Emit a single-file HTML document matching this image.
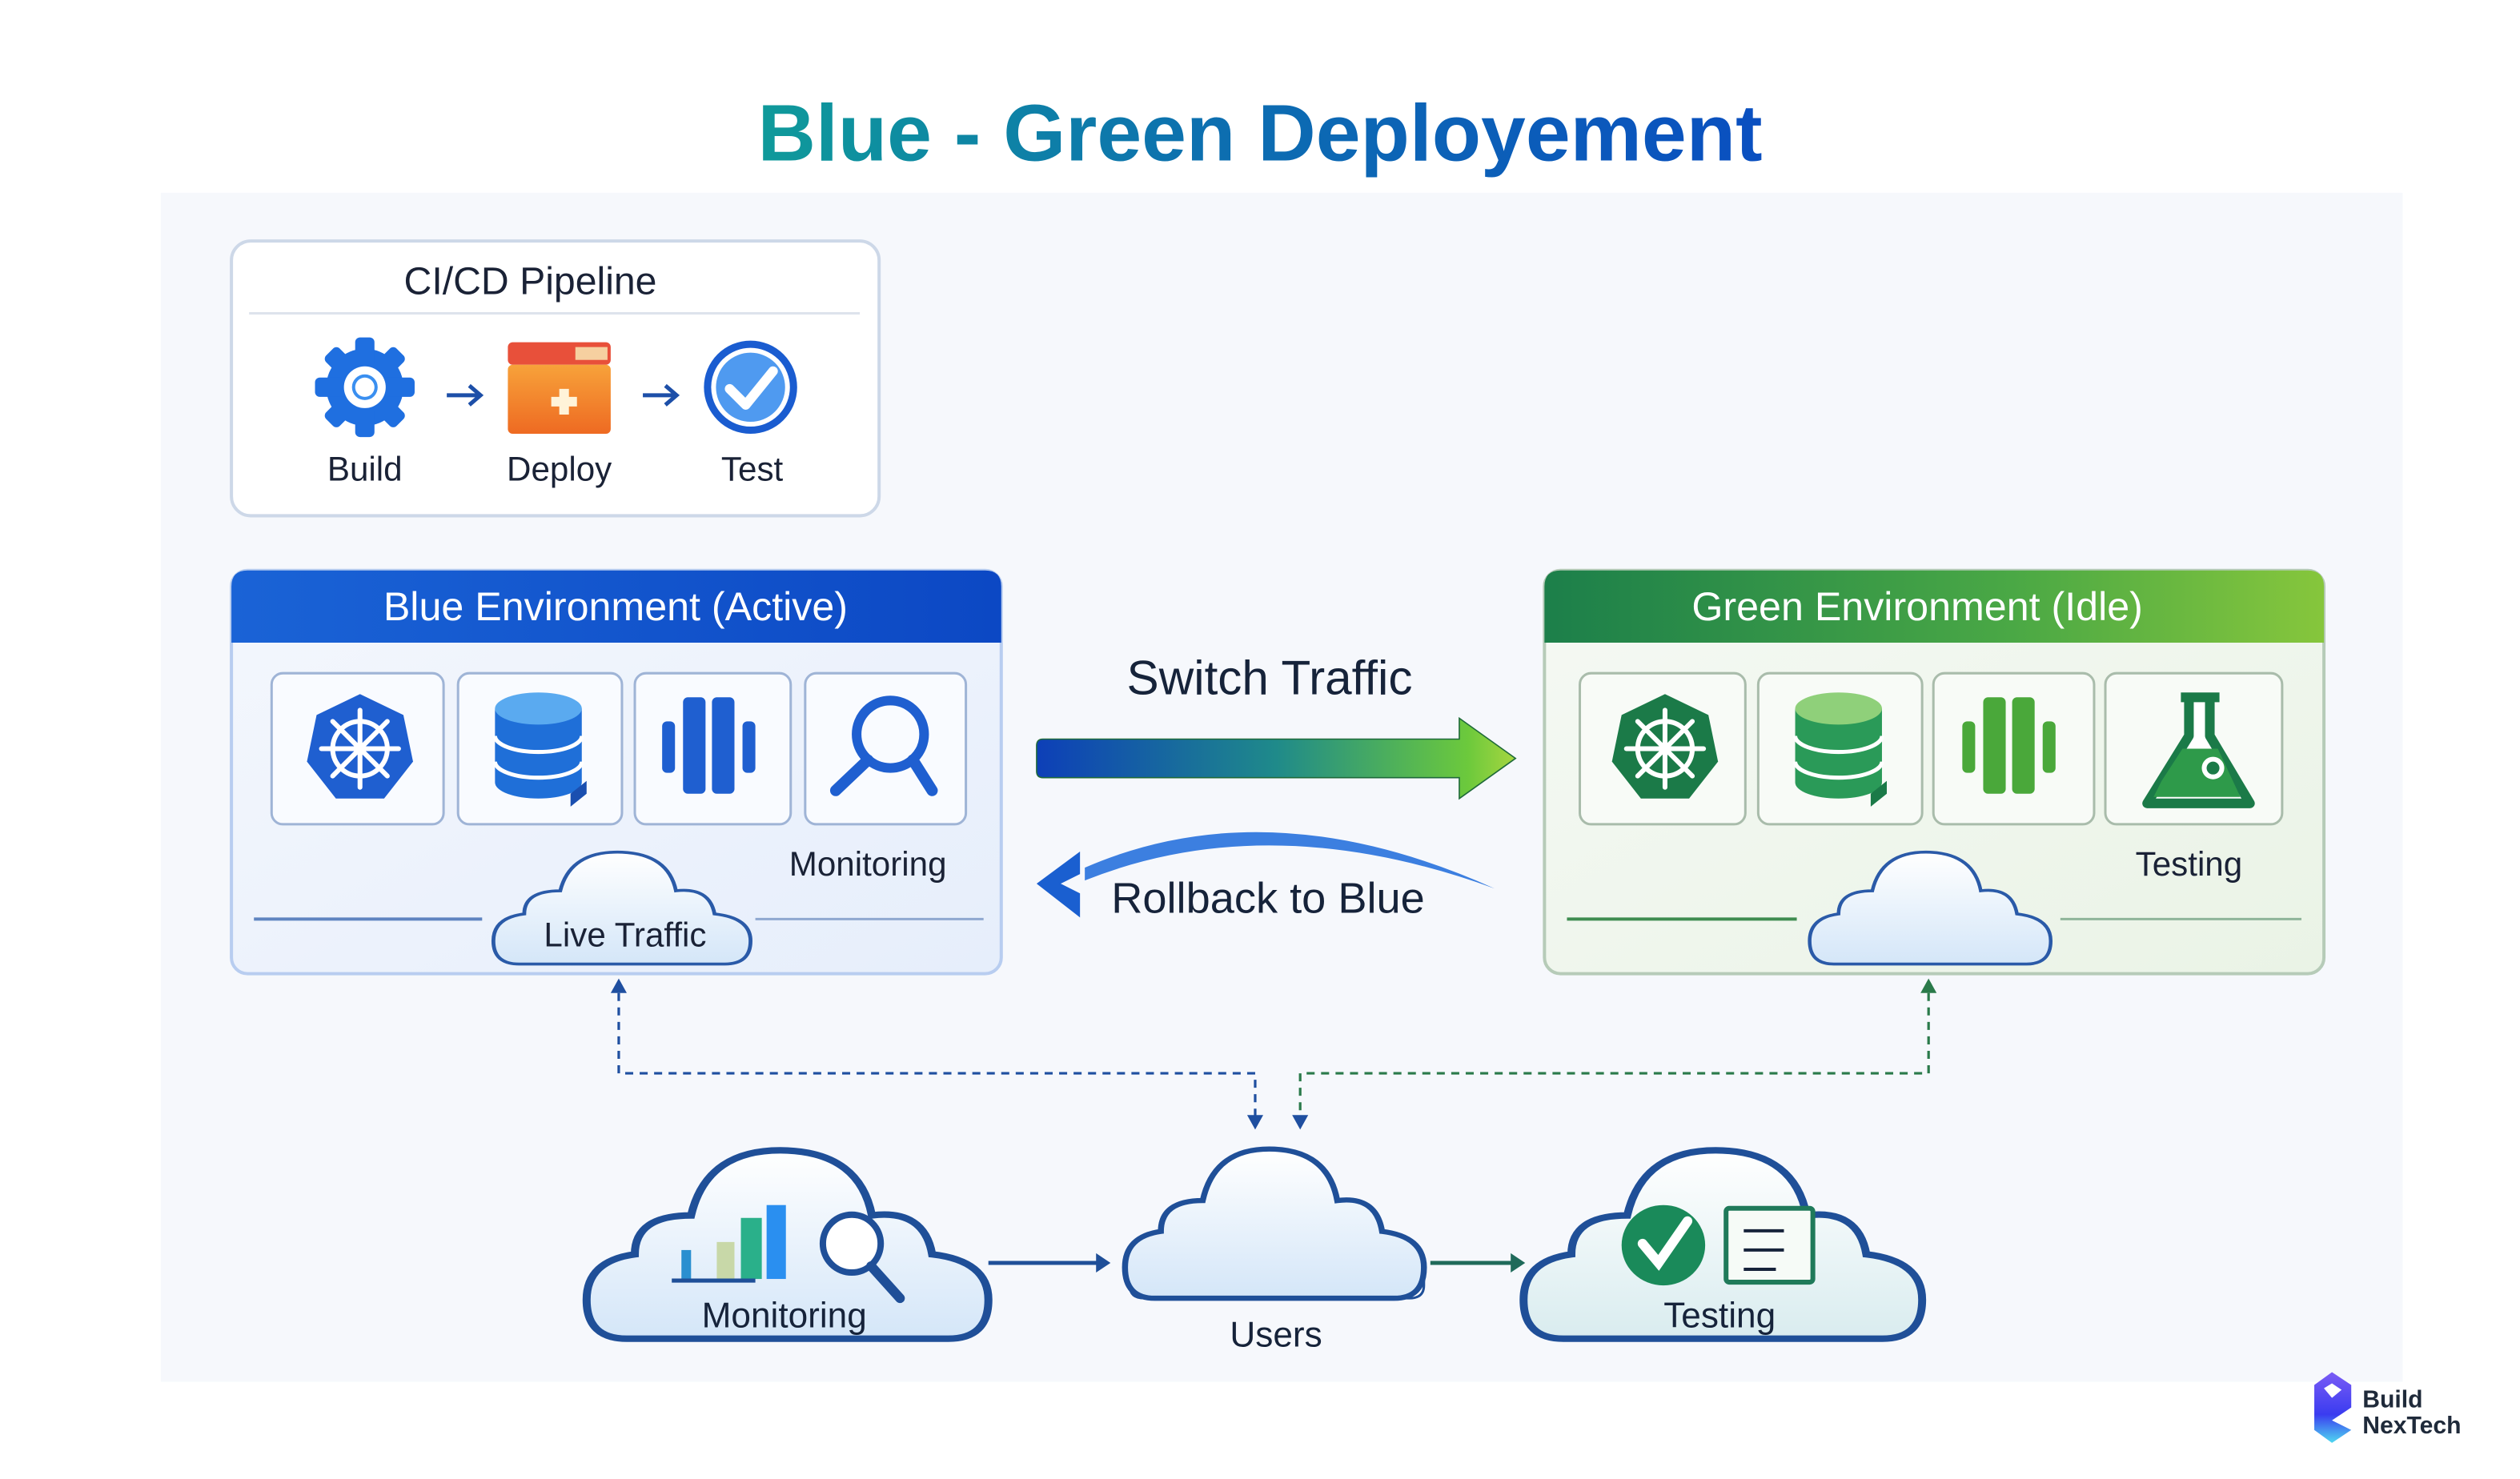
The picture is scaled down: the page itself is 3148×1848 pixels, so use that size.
<!DOCTYPE html>
<html><head><meta charset="utf-8"><style>
html,body{margin:0;padding:0;background:#fff;}
svg{display:block;font-family:"Liberation Sans",sans-serif;}
</style></head><body>
<svg width="3148" height="1848" viewBox="0 0 1568 920.5" preserveAspectRatio="none" xmlns="http://www.w3.org/2000/svg">
<defs>
<linearGradient id="tg" x1="0" x2="1"><stop offset="0" stop-color="#0f9a9a"/><stop offset="0.45" stop-color="#0d6fb0"/><stop offset="1" stop-color="#0a4fc0"/></linearGradient>
<linearGradient id="bh" x1="0" x2="1"><stop offset="0" stop-color="#1a63d6"/><stop offset="1" stop-color="#0c48c4"/></linearGradient>
<linearGradient id="gh" x1="0" x2="1"><stop offset="0" stop-color="#1c7f4a"/><stop offset="0.6" stop-color="#4aa845"/><stop offset="1" stop-color="#86c63c"/></linearGradient>
<linearGradient id="sw" x1="0" x2="1"><stop offset="0" stop-color="#0d3fb8"/><stop offset="0.5" stop-color="#1f8a8a"/><stop offset="0.9" stop-color="#6cc93c"/><stop offset="1" stop-color="#a6d640"/></linearGradient>
<linearGradient id="cl" x1="0" y1="0" x2="0" y2="1"><stop offset="0" stop-color="#ffffff"/><stop offset="1" stop-color="#d4e6f8"/></linearGradient>
<linearGradient id="clg" x1="0" y1="0" x2="0" y2="1"><stop offset="0" stop-color="#ffffff"/><stop offset="1" stop-color="#d9ecef"/></linearGradient>
<linearGradient id="bb" x1="0" y1="0" x2="1" y2="1"><stop offset="0" stop-color="#f4f7fd"/><stop offset="1" stop-color="#e6eefb"/></linearGradient>
<linearGradient id="gb" x1="0" y1="0" x2="1" y2="1"><stop offset="0" stop-color="#f5f9f4"/><stop offset="1" stop-color="#eaf3e6"/></linearGradient>
<linearGradient id="dp" x1="0" y1="0" x2="0" y2="1"><stop offset="0" stop-color="#f7a23a"/><stop offset="1" stop-color="#ee6a22"/></linearGradient>
<linearGradient id="lg" x1="0" y1="0" x2="0" y2="1"><stop offset="0" stop-color="#7a5cf5"/><stop offset="0.6" stop-color="#3a3cf0"/><stop offset="1" stop-color="#4fd8f0"/></linearGradient>
<path id="cloud" d="M10,60 Q0,60 0,48 Q0,36 12,34 Q12,22 26,22 Q30,1 50,2 Q68,3 71,22 Q84,20 86,34 Q100,36 100,48 Q100,60 90,60 Z"/>
</defs>
<rect width="1568" height="921" fill="#fff"/>
<rect x="100" y="120" width="1395" height="740" fill="#f6f8fc"/>
<text x="784" y="100" font-size="50" font-weight="bold" fill="url(#tg)" text-anchor="middle">Blue - Green Deployement</text>

<!-- CI/CD -->
<rect x="144" y="150" width="403" height="171" rx="12" fill="#fff" stroke="#cdd8e8" stroke-width="2"/>
<text x="330" y="183" font-size="24" fill="#1a2236" text-anchor="middle">CI/CD Pipeline</text>
<line x1="155" y1="195" x2="535" y2="195" stroke="#dde3ec" stroke-width="1.5"/>
<g transform="translate(227,241)">
<circle r="24" fill="#1f6fe0"/>
<g fill="#1f6fe0"><rect x="-6" y="-31" width="12" height="62" rx="3"/><rect x="-6" y="-31" width="12" height="62" rx="3" transform="rotate(45)"/><rect x="-6" y="-31" width="12" height="62" rx="3" transform="rotate(90)"/><rect x="-6" y="-31" width="12" height="62" rx="3" transform="rotate(135)"/></g>
<circle r="13" fill="#fff"/><circle r="8" fill="#3a8ff0"/><circle r="6" fill="#fff"/></g>
<path d="M278,246 H298 M292,240 L299,246 L292,252" stroke="#1d4fa8" stroke-width="2.5" fill="none"/>
<rect x="316" y="213" width="64" height="14" rx="3" fill="#e8503a"/>
<rect x="358" y="216" width="20" height="8" fill="#f6d0a0"/>
<rect x="316" y="227" width="64" height="43" rx="3" fill="url(#dp)"/>
<path d="M348,242 h6 v5 h5 v6 h-5 v5 h-6 v-5 h-5 v-6 h5 z" fill="#fff3d8"/>
<path d="M400,246 H420 M414,240 L421,246 L414,252" stroke="#1d4fa8" stroke-width="2.5" fill="none"/>
<circle cx="467" cy="241" r="29" fill="#1a5cd0"/><circle cx="467" cy="241" r="23" fill="#4f9af0" stroke="#fff" stroke-width="3"/>
<path d="M454,242 L464,252 L481,231" stroke="#fff" stroke-width="6" fill="none" stroke-linecap="round" stroke-linejoin="round"/>
<g font-size="21" fill="#1a2236" text-anchor="middle"><text x="227" y="299">Build</text><text x="348" y="299">Deploy</text><text x="468" y="299">Test</text></g>

<!-- Blue env -->
<rect x="144" y="355" width="479" height="251" rx="10" fill="url(#bb)" stroke="#b8cdf0" stroke-width="2"/>
<path d="M154,355 H613 Q623,355 623,365 V400 H144 V365 Q144,355 154,355 Z" fill="url(#bh)"/>
<text x="383" y="386" font-size="25" fill="#fff" text-anchor="middle">Blue Environment (Active)</text>
<g fill="#f9fbff" stroke="#9fb4d6" stroke-width="1.5">
<rect x="169" y="419" width="107" height="94" rx="7"/><rect x="285" y="419" width="102" height="94" rx="7"/><rect x="395" y="419" width="97" height="94" rx="7"/><rect x="501" y="419" width="100" height="94" rx="7"/></g>
<g transform="translate(224,466)">
<polygon points="0,-34 27,-21 33,8 15,31 -15,31 -33,8 -27,-21" fill="#1f5fd0"/>
<circle r="17" fill="none" stroke="#fff" stroke-width="3"/><circle r="4" fill="#fff"/>
<g stroke="#fff" stroke-width="3" stroke-linecap="round"><line y1="-24" y2="24"/><line x1="-24" x2="24"/><line x1="-17" y1="-17" x2="17" y2="17"/><line x1="-17" y1="17" x2="17" y2="-17"/></g></g>
<g transform="translate(335,0)">
<path d="M-27,441 V487 A27,10 0 0 0 27,487 V441 Z" fill="#1f6fd8"/>
<ellipse cx="0" cy="441" rx="27" ry="10" fill="#5aaaf0"/>
<path d="M-27,458 A27,10 0 0 0 27,458 M-27,474 A27,10 0 0 0 27,474" stroke="#fff" stroke-width="2.5" fill="none"/>
<path d="M20,494 L30,486 L30,494 L20,502 Z" fill="#1a4fb0"/></g>
<g fill="#1f5fd0"><rect x="412" y="449" width="8" height="32" rx="3"/><rect x="425" y="434" width="14" height="60" rx="3"/><rect x="443" y="434" width="14" height="60" rx="3"/><rect x="462" y="449" width="8" height="32" rx="3"/></g>
<circle cx="554" cy="457" r="21" fill="none" stroke="#1f5fd0" stroke-width="6"/>
<path d="M540,473 L520,492 M568,473 L580,492" stroke="#1f5fd0" stroke-width="7" stroke-linecap="round"/>
<text x="540" y="545" font-size="21" fill="#1a2236" text-anchor="middle">Monitoring</text>
<line x1="158" y1="572" x2="300" y2="572" stroke="#5f84c0" stroke-width="2"/><line x1="470" y1="572" x2="612" y2="572" stroke="#8fa8d0" stroke-width="1.5"/>
<use href="#cloud" transform="translate(307,528) scale(1.6,1.2)" fill="url(#cl)" stroke="#2a5aa8" stroke-width="1.5" vector-effect="non-scaling-stroke"/>
<text x="389" y="589" font-size="21" fill="#1a2236" text-anchor="middle">Live Traffic</text>

<!-- Green env -->
<rect x="961" y="355" width="485" height="251" rx="10" fill="url(#gb)" stroke="#b6cbb8" stroke-width="2"/>
<path d="M971,355 H1436 Q1446,355 1446,365 V400 H961 V365 Q961,355 971,355 Z" fill="url(#gh)"/>
<text x="1193" y="386" font-size="25" fill="#fff" text-anchor="middle">Green Environment (Idle)</text>
<g fill="#f8fbf7" stroke="#a9bcab" stroke-width="1.5">
<rect x="983" y="419" width="103" height="94" rx="7"/><rect x="1094" y="419" width="102" height="94" rx="7"/><rect x="1203" y="419" width="100" height="94" rx="7"/><rect x="1310" y="419" width="110" height="94" rx="7"/></g>
<g transform="translate(1036,466)">
<polygon points="0,-34 27,-21 33,8 15,31 -15,31 -33,8 -27,-21" fill="#1b7a48"/>
<circle r="17" fill="none" stroke="#fff" stroke-width="3"/><circle r="4" fill="#fff"/>
<g stroke="#fff" stroke-width="3" stroke-linecap="round"><line y1="-24" y2="24"/><line x1="-24" x2="24"/><line x1="-17" y1="-17" x2="17" y2="17"/><line x1="-17" y1="17" x2="17" y2="-17"/></g></g>
<g transform="translate(1144,0)">
<path d="M-27,441 V487 A27,10 0 0 0 27,487 V441 Z" fill="#2a9a58"/>
<ellipse cx="0" cy="441" rx="27" ry="10" fill="#8fd07a"/>
<path d="M-27,458 A27,10 0 0 0 27,458 M-27,474 A27,10 0 0 0 27,474" stroke="#fff" stroke-width="2.5" fill="none"/>
<path d="M20,494 L30,486 L30,494 L20,502 Z" fill="#1b7a48"/></g>
<g fill="#4aa83a"><rect x="1221" y="449" width="8" height="32" rx="3"/><rect x="1234" y="434" width="14" height="60" rx="3"/><rect x="1252" y="434" width="14" height="60" rx="3"/><rect x="1271" y="449" width="8" height="32" rx="3"/></g>
<path d="M1357,434 H1381 M1362,434 V458 L1336,500 H1400 L1375,458 V434" fill="#fff" stroke="#1b7a48" stroke-width="6" stroke-linejoin="round"/>
<path d="M1345,486 L1358,466 H1380 L1394,496 H1340 Z" fill="#2e9a4a"/>
<circle cx="1377" cy="478" r="7" fill="#fff"/><circle cx="1377" cy="478" r="4" fill="#1b7a48"/>
<text x="1362" y="545" font-size="21" fill="#1a2236" text-anchor="middle">Testing</text>
<line x1="975" y1="572" x2="1118" y2="572" stroke="#3e8c50" stroke-width="2"/><line x1="1282" y1="572" x2="1432" y2="572" stroke="#8fb59a" stroke-width="1.5"/>
<use href="#cloud" transform="translate(1126,528) scale(1.5,1.2)" fill="url(#cl)" stroke="#2a5aa8" stroke-width="1.5" vector-effect="non-scaling-stroke"/>

<!-- switch -->
<text x="790" y="432" font-size="30" fill="#16233a" text-anchor="middle">Switch Traffic</text>
<path d="M649,460 H908 V447 L943,472 L908,497 V484 H649 Q645,484 645,480 V464 Q645,460 649,460 Z" fill="url(#sw)" stroke="#1f6a3a" stroke-width="0.8"/>
<path d="M675,540 Q790,490 930,553 Q790,502 675,548 Z" fill="#3c7fe0"/>
<path d="M645,550 L672,530 L672,544 L660,550 L672,556 L672,571 Z" fill="#1a5fd0"/>
<text x="789" y="568" font-size="27" fill="#16233a" text-anchor="middle">Rollback to Blue</text>

<!-- dashed connectors -->
<g fill="none" stroke-width="1.6" stroke-dasharray="5,4">
<path d="M385,618 V668 H781 V696" stroke="#1f4fa0"/>
<path d="M1200,618 V668 H809 V696" stroke="#2a7a4a"/></g>
<path d="M380,618 L385,609 L390,618 Z" fill="#1f4fa0"/>
<path d="M1195,618 L1200,609 L1205,618 Z" fill="#2a7a4a"/>
<path d="M776,694 L781,703 L786,694 Z M804,694 L809,703 L814,694 Z" fill="#1f4fa0"/>

<!-- bottom clouds -->
<use href="#cloud" transform="translate(365,712) scale(2.5,2.02)" fill="url(#cl)" stroke="#1f4f98" stroke-width="2" vector-effect="non-scaling-stroke"/>
<rect x="424" y="778" width="6" height="18" fill="#2a8fd0"/><rect x="446" y="773" width="11" height="23" fill="#c8d8a8"/><rect x="461" y="758" width="13" height="38" fill="#2ab08a"/><rect x="477" y="750" width="12" height="46" fill="#2a8ff0"/>
<line x1="418" y1="797" x2="470" y2="797" stroke="#1f4f98" stroke-width="2.5"/>
<circle cx="530" cy="774" r="18" fill="#fff" stroke="#1f4f98" stroke-width="4"/>
<path d="M542,788 L560,808" stroke="#1f4f98" stroke-width="6" stroke-linecap="round"/>
<text x="488" y="826" font-size="22" fill="#16233a" text-anchor="middle">Monitoring</text>
<path d="M615,786 H684" stroke="#1f4f98" stroke-width="2.5"/><path d="M682,780 L691,786 L682,792 Z" fill="#1f4f98"/>
<path d="M703,790 V800 Q703,808 712,808 H877 Q886,808 886,800 V790" fill="#fff" stroke="#1f4f98" stroke-width="1.5"/>
<use href="#cloud" transform="translate(700,712) scale(1.86,1.6)" fill="url(#cl)" stroke="#1f4f98" stroke-width="2" vector-effect="non-scaling-stroke"/>
<text x="794" y="838" font-size="22" fill="#16233a" text-anchor="middle">Users</text>
<path d="M890,786 H942" stroke="#1f6a5a" stroke-width="2.5"/><path d="M940,780 L949,786 L940,792 Z" fill="#1f6a5a"/>
<use href="#cloud" transform="translate(948,712) scale(2.48,2.02)" fill="url(#clg)" stroke="#1f4f98" stroke-width="2" vector-effect="non-scaling-stroke"/>
<ellipse cx="1035" cy="775" rx="26" ry="25" fill="#1a8a5a"/>
<path d="M1022,774 L1032,786 L1050,760" stroke="#fff" stroke-width="6" fill="none" stroke-linecap="round"/>
<rect x="1074" y="752" width="54" height="46" rx="2" fill="#f6fbf7" stroke="#1f7a5a" stroke-width="3"/>
<path d="M1085,766 H1110 M1085,778 H1110 M1085,790 H1105" stroke="#16233a" stroke-width="2"/>
<text x="1070" y="826" font-size="22" fill="#16233a" text-anchor="middle">Testing</text>

<!-- logo -->
<path d="M1440,862 L1451,854 L1463,862 L1463,876 L1451,884 L1463,890 L1451,898 L1440,890 Z" fill="url(#lg)"/>
<path d="M1446,864 L1451,861 L1457,865 L1451,870 Z" fill="#fff"/>
<text x="1470" y="876" font-size="15" font-weight="bold" fill="#1f2a3a">Build</text>
<text x="1470" y="892" font-size="15" font-weight="bold" fill="#1f2a3a">NexTech</text>
</svg>
</body></html>
